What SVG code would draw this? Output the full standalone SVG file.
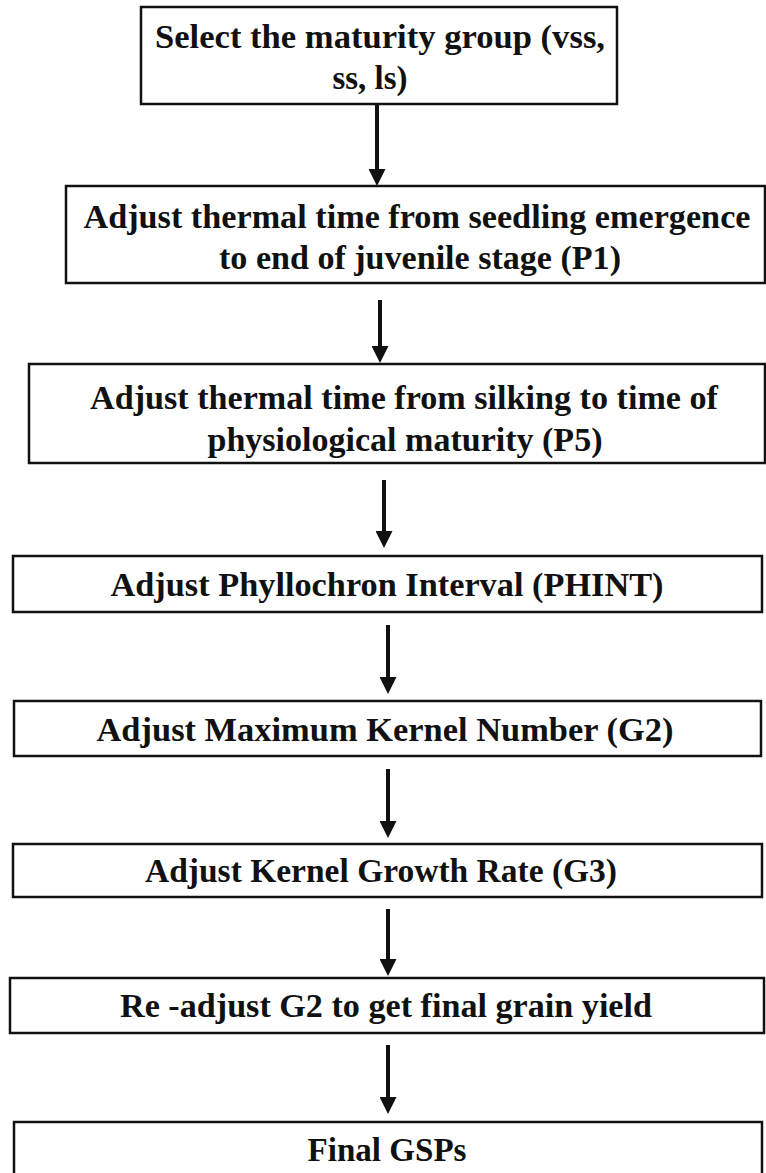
<svg xmlns="http://www.w3.org/2000/svg" width="766" height="1173" viewBox="0 0 766 1173">
<style>
.box{fill:#fff;stroke:#111;stroke-width:2.5}
.t{font-family:"Liberation Serif","Times New Roman",serif;font-weight:bold;font-size:33px;fill:#111;text-anchor:middle}
.c{stroke:#111;stroke-width:4;fill:none;marker-end:url(#ah)}
</style>
<defs>
<marker id="ah" markerUnits="userSpaceOnUse" viewBox="0 0 17 17" markerWidth="17" markerHeight="17" refX="5" refY="8.5" orient="auto">
<path d="M0,0 L17,8.5 L0,17 z" fill="#111"/>
</marker>
</defs>
<rect width="766" height="1173" fill="#fff"/>
<g id="connectors">
<line class="c" x1="377" y1="104" x2="377" y2="174"/>
<line class="c" x1="380" y1="300" x2="380" y2="351"/>
<line class="c" x1="384" y1="480" x2="384" y2="536"/>
<line class="c" x1="388" y1="625" x2="388" y2="682"/>
<line class="c" x1="388" y1="769" x2="388" y2="826"/>
<line class="c" x1="388" y1="909" x2="388" y2="964"/>
<line class="c" x1="388" y1="1045" x2="388" y2="1102"/>
</g>
<g id="n1">
<rect class="box" x="141" y="7" width="476" height="97"/>
<text class="t" x="380" y="48" textLength="450" lengthAdjust="spacingAndGlyphs">Select the maturity group (vss,</text>
<text class="t" x="370" y="89" textLength="75" lengthAdjust="spacingAndGlyphs">ss, ls)</text>
</g>
<g id="n2">
<rect class="box" x="66" y="186" width="699" height="97"/>
<text class="t" x="417" y="228" textLength="667" lengthAdjust="spacingAndGlyphs">Adjust thermal time from seedling emergence</text>
<text class="t" x="420" y="269" textLength="402" lengthAdjust="spacingAndGlyphs">to end of juvenile stage (P1)</text>
</g>
<g id="n3">
<rect class="box" x="29" y="364" width="736" height="99"/>
<text class="t" x="404" y="409" textLength="628" lengthAdjust="spacingAndGlyphs">Adjust thermal time from silking to time of</text>
<text class="t" x="405" y="451" textLength="395" lengthAdjust="spacingAndGlyphs">physiological maturity (P5)</text>
</g>
<g id="n4">
<rect class="box" x="13" y="556" width="749" height="56"/>
<text class="t" x="387" y="596" textLength="553" lengthAdjust="spacingAndGlyphs">Adjust Phyllochron Interval (PHINT)</text>
</g>
<g id="n5">
<rect class="box" x="14" y="701" width="747" height="55"/>
<text class="t" x="385" y="741" textLength="577" lengthAdjust="spacingAndGlyphs">Adjust Maximum Kernel Number (G2)</text>
</g>
<g id="n6">
<rect class="box" x="13" y="844" width="749" height="53"/>
<text class="t" x="381" y="882" textLength="472" lengthAdjust="spacingAndGlyphs">Adjust Kernel Growth Rate (G3)</text>
</g>
<g id="n7">
<rect class="box" x="10" y="978" width="754" height="55"/>
<text class="t" x="386" y="1017" textLength="532" lengthAdjust="spacingAndGlyphs">Re -adjust G2 to get final grain yield</text>
</g>
<g id="n8">
<rect class="box" x="14" y="1122" width="748" height="62"/>
<text class="t" x="387" y="1161" textLength="159" lengthAdjust="spacingAndGlyphs">Final GSPs</text>
</g>
</svg>
